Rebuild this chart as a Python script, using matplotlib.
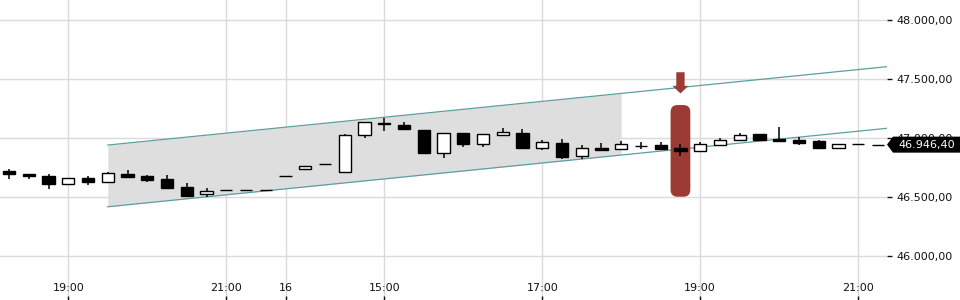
import numpy as np
import matplotlib
matplotlib.use("Agg")
import matplotlib.pyplot as plt
from matplotlib.patches import FancyBboxPatch, Polygon
from matplotlib.ticker import FuncFormatter

# 15 minute candles: open, high, low, close
opens = [46723, 46697, 46680, 46610, 46661, 46627, 46697, 46680, 46655, 46585,
         46525, 46559, 46559, 46559, 46678, 46737, 46782, 46712, 47025, 47128,
         47113, 47070, 46878, 47045, 46954, 47031, 47045, 46920, 46960, 46847,
         46915, 46907, 46936, 46940, 46918, 46890, 46940, 46983, 47034, 46994,
         46986, 46977, 46915, 46949, 46946.4]
highs = [46737, 46697, 46697, 46661, 46680, 46714, 46729, 46686, 46689, 46621,
         46576, 46559, 46559, 46559, 46678, 46763, 46782, 47039, 47138, 47172,
         47138, 47070, 47042, 47045, 47034, 47085, 47079, 46986, 46994, 46943,
         46960, 46977, 46969, 46966, 46954, 46969, 47005, 47047, 47034, 47094,
         47008, 46986, 46949, 46949, 46946.4]
lows = [46658, 46653, 46573, 46610, 46607, 46627, 46664, 46632, 46573, 46514,
        46505, 46559, 46559, 46559, 46678, 46737, 46782, 46712, 47005, 47064,
        47081, 46878, 46836, 46929, 46929, 47031, 46920, 46903, 46827, 46825,
        46895, 46907, 46907, 46912, 46853, 46890, 46940, 46983, 46983, 46980,
        46946, 46915, 46915, 46949, 46946.4]
closes = [46695, 46678, 46610, 46661, 46627, 46703, 46675, 46649, 46581, 46514,
          46553, 46559, 46559, 46559, 46678, 46763, 46782, 47028, 47138, 47120,
          47081, 46878, 47042, 46954, 47034, 47051, 46920, 46969, 46844, 46915,
          46903, 46952, 46932, 46912, 46890, 46949, 46983, 47028, 46983, 46980,
          46963, 46915, 46949, 46949, 46946.4]

tick_idx = [3, 11, 14, 19, 27, 35, 43]
tick_labels = ["19:00", "21:00", "16", "15:00", "17:00", "19:00", "21:00"]
price_ticks = [46000, 46500, 47000, 47500, 48000]

# trend channel (candle index, price)
chan_x = [5, 44.46]
chan_upper = [46943, 47607]
chan_lower = [46420, 47085]
shade_x = [5, 31]

signal_idx = 34
signal_range = [46505, 47282]
arrow_from, arrow_to = 47560, 47380

red = "#9b3b34"
teal = "#5f9ea0"

fig = plt.figure(figsize=(9.6, 3), dpi=100)
ax = fig.add_axes([0, 0, 887 / 960, 1])
ax.set_xlim(-0.46, 44.46)
ax.set_ylim(45630, 48172)

for s in ax.spines.values():
    s.set_visible(False)
ax.set_axisbelow(True)
ax.grid(True, color="#dadada", linewidth=1)

ax.set_xticks(tick_idx)
ax.set_xticklabels(tick_labels)
ax.set_yticks(price_ticks)
ax.yaxis.tick_right()
fmt = lambda v, p: "{:,.2f}".format(v).replace(",", "X").replace(".", ",").replace("X", ".")
ax.yaxis.set_major_formatter(FuncFormatter(fmt))
ax.tick_params(axis="x", direction="in", length=3, width=1, pad=-12.5,
               labelsize=8, colors="#111111")
ax.tick_params(axis="y", direction="out", length=3.5, width=1, pad=3,
               labelsize=8, colors="#111111")

# channel
slope_u = (chan_upper[1] - chan_upper[0]) / (chan_x[1] - chan_x[0])
slope_l = (chan_lower[1] - chan_lower[0]) / (chan_x[1] - chan_x[0])
xs = np.array(shade_x, dtype=float)
ax.fill_between(xs, chan_lower[0] + slope_l * (xs - chan_x[0]),
                chan_upper[0] + slope_u * (xs - chan_x[0]),
                color="#dedede", linewidth=0, zorder=1)
ax.plot(chan_x, chan_upper, color=teal, linewidth=0.9, zorder=1.5)
ax.plot(chan_x, chan_lower, color=teal, linewidth=0.9, zorder=1.5)

# highlight bar and arrow
rect = FancyBboxPatch((signal_idx - 0.5, signal_range[0]), 1.0,
                      signal_range[1] - signal_range[0],
                      boxstyle="round,pad=0,rounding_size=0.35",
                      mutation_aspect=170, facecolor=red, edgecolor="none",
                      zorder=2)
ax.add_patch(rect)
ax.annotate("", xy=(signal_idx, arrow_to), xytext=(signal_idx, arrow_from),
            arrowprops=dict(arrowstyle="simple,head_length=0.55,head_width=1.15,tail_width=0.6",
                            facecolor=red, edgecolor="none", shrinkA=0, shrinkB=0,
                            mutation_scale=10), zorder=4)

# candles
idx = np.arange(len(opens))
o = np.array(opens)
c = np.array(closes)
ax.vlines(idx, lows, highs, color="black", linewidth=1.1, zorder=3)
fills = ["black" if oo > cc else "white" for oo, cc in zip(o, c)]
ax.bar(idx, c - o, bottom=o, width=0.62, color=fills, edgecolor="black",
       linewidth=1.0, zorder=3.5)

# last price tag
last = closes[-1]
yd = ax.transData.transform((0, last))[1] / 300
x0 = 887 / 960
h = 8 / 300
tag = Polygon([(x0, yd), (x0 + 6 / 960, yd + h), (1.0, yd + h),
               (1.0, yd - h), (x0 + 6 / 960, yd - h)],
              closed=True, transform=fig.transFigure, facecolor="black",
              edgecolor="none")
fig.patches.append(tag)
fig.text(898 / 960, yd, fmt(last, None), color="white", fontsize=8,
         va="center", ha="left")

fig.savefig("out.png", dpi=100)
